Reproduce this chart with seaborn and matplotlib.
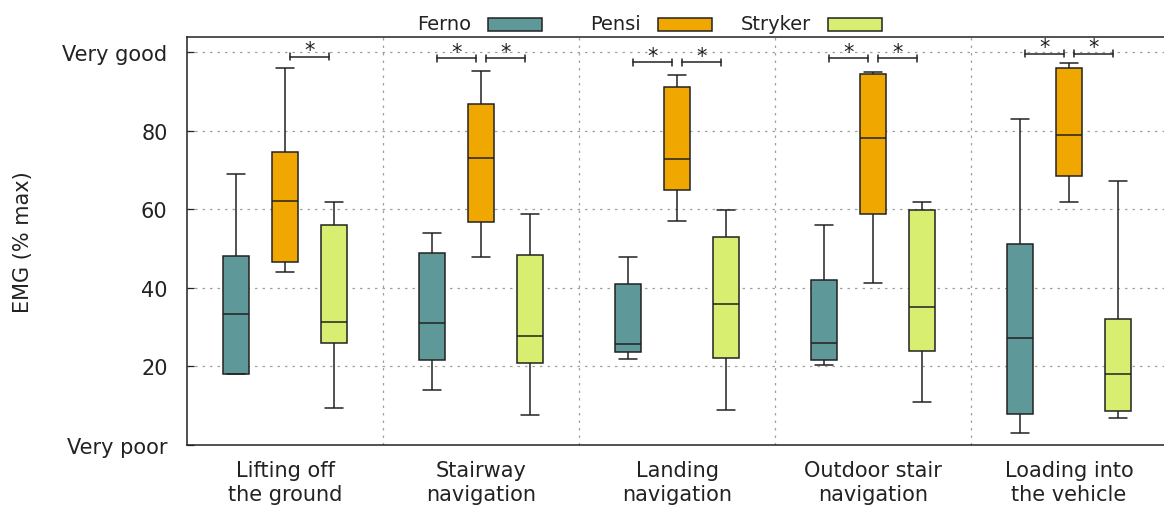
import numpy as np
import pandas as pd
import matplotlib
matplotlib.use("Agg")
import matplotlib.pyplot as plt
from matplotlib.patches import Rectangle
import seaborn as sns

# Tasks on the x axis
tasks = ["Lifting off\nthe ground", "Stairway\nnavigation", "Landing\nnavigation",
         "Outdoor stair\nnavigation", "Loading into\nthe vehicle"]
brands = ["Ferno", "Pensi", "Stryker"]

# Five-number summaries per task: [min, q1, median, q3, max]
ferno = [[18.1, 18.1, 33.4, 48.1, 69.0],
         [13.9, 21.5, 31.0, 48.8, 53.9],
         [21.8, 23.6, 25.6, 40.9, 47.8],
         [20.4, 21.5, 26.0, 42.0, 56.0],
         [3.0, 7.7, 27.3, 51.1, 83.0]]
pensi = [[44.0, 46.5, 62.2, 74.5, 96.0],
         [47.8, 56.7, 73.2, 86.8, 95.3],
         [57.0, 65.0, 72.9, 91.2, 94.3],
         [41.3, 58.8, 78.3, 94.4, 94.9],
         [61.8, 68.4, 78.9, 95.9, 97.4]]
stryker = [[9.4, 26.0, 31.4, 56.0, 61.8],
           [7.5, 20.9, 27.7, 48.4, 58.8],
           [8.8, 22.1, 35.8, 52.9, 59.7],
           [10.8, 23.8, 35.2, 59.7, 61.8],
           [6.7, 8.5, 18.0, 32.0, 67.3]]

# Significant pairwise differences per task and height of each bracket
sig_pairs = [[("Pensi", "Stryker")],
             [("Ferno", "Pensi"), ("Pensi", "Stryker")],
             [("Ferno", "Pensi"), ("Pensi", "Stryker")],
             [("Ferno", "Pensi"), ("Pensi", "Stryker")],
             [("Ferno", "Pensi"), ("Pensi", "Stryker")]]
sig_heights = [98.9, 98.5, 97.5, 98.5, 99.6]

y_ticks = [0, 20, 40, 60, 80, 100]
y_ticklabels = ["Very poor", "20", "40", "60", "80", "Very good"]

colors = {"Ferno": "#5f9898", "Pensi": "#f0a800", "Stryker": "#d8ee70"}
edge = "#222222"
text_color = "#222222"
fs = 15

# Long-form table: the five summary values per box reproduce its quartiles exactly
rows = []
for brand, summaries in zip(brands, [ferno, pensi, stryker]):
    for task, summ in zip(tasks, summaries):
        for v in summ:
            rows.append({"task": task, "brand": brand, "emg": v})
df = pd.DataFrame(rows)

sns.set_style("white")
plt.rcParams["font.family"] = ["DejaVu Sans"]

W, H = 1164, 506
fig = plt.figure(figsize=(W / 100, H / 100), dpi=100)
ax = fig.add_axes([187 / W, 1 - 445.7 / H, 980 / W, (445.7 - 37.7) / H])

width = 0.75
sns.boxplot(data=df, x="task", y="emg", hue="brand", order=tasks, hue_order=brands,
            palette=colors, saturation=1, width=width, gap=0.45, whis=(0, 100),
            linecolor=edge, linewidth=1.1, legend=False, ax=ax,
            capwidths=0.087)

ax.set_xlim(-0.5, len(tasks) - 0.5)
ax.set_ylim(0, 104)

# Dotted grid: horizontal at value ticks, vertical between tasks
for y in y_ticks[1:]:
    ax.axhline(y, color="#a0a0a0", lw=0.9, ls=(0, (2, 4)), zorder=0)
for i in range(len(tasks) - 1):
    ax.axvline(i + 0.5, color="#a0a0a0", lw=0.9, ls=(0, (2, 4)), zorder=0)

# Significance brackets with asterisks
step = width / len(brands)
offset = {b: (k - (len(brands) - 1) / 2) * step for k, b in enumerate(brands)}
for i, (pairs, h) in enumerate(zip(sig_pairs, sig_heights)):
    for a, b in pairs:
        x0 = i + offset[a] + 0.025
        x1 = i + offset[b] - 0.025
        ax.plot([x0, x1], [h, h], color=edge, lw=1.1, zorder=5)
        ax.plot([x0, x0], [h - 0.9, h + 0.9], color=edge, lw=1.1, zorder=5)
        ax.plot([x1, x1], [h - 0.9, h + 0.9], color=edge, lw=1.1, zorder=5)
        ax.text((x0 + x1) / 2, h - 0.9, "*", ha="center", va="bottom",
                fontsize=15, color=edge, zorder=6)

ax.set_yticks(y_ticks)
ax.set_yticklabels(y_ticklabels)
ax.tick_params(axis="y", direction="in", length=5, width=0.9, pad=14,
               labelsize=fs, colors=text_color, left=True)
ax.tick_params(axis="x", length=0, pad=11, labelsize=fs, colors=text_color)
for lbl in ax.get_xticklabels():
    lbl.set_linespacing(1.25)
ax.set_xlabel("")
ax.set_ylabel("EMG (% max)", fontsize=fs, color=text_color, labelpad=21)

for side in ["left", "bottom", "top"]:
    ax.spines[side].set_visible(True)
    ax.spines[side].set_color("#222222")
    ax.spines[side].set_linewidth(1.1)
ax.spines["right"].set_visible(False)

# Key above the plot: right-aligned name followed by its swatch, fixed column pitch
key_y = 1 - 25 / H
for k, b in enumerate(brands):
    x_text = (471 + 170 * k) / W
    x_sw = (488 + 170 * k) / W
    fig.text(x_text, key_y, b, ha="right", va="center", fontsize=14, color=text_color)
    fig.add_artist(Rectangle((x_sw, key_y - 6.5 / H), 54 / W, 13 / H,
                             transform=fig.transFigure, facecolor=colors[b],
                             edgecolor=edge, linewidth=1.1))

fig.savefig("out.png", dpi=100)
